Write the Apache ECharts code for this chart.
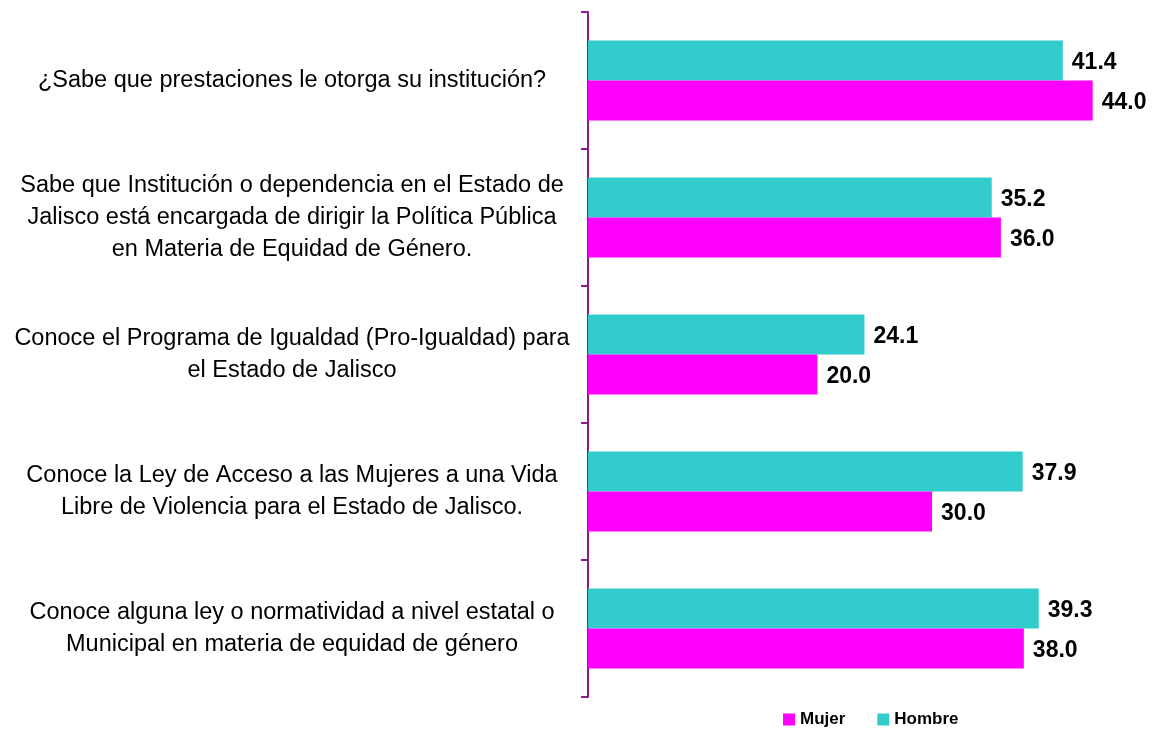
<!DOCTYPE html>
<html>
<head>
<meta charset="utf-8">
<script src="https://cdn.jsdelivr.net/npm/echarts@6/dist/echarts.min.js"></script>
<style>
  html, body { margin: 0; padding: 0; background: #fff; }
  #main { width: 1155px; height: 732px; }
</style>
</head>
<body>
<div id="main"></div>
<script>
var preguntas = [
    '¿Sabe que prestaciones le otorga su institución?',
    'Sabe que Institución o dependencia en el Estado de\nJalisco está encargada de dirigir la Política Pública\nen Materia de Equidad de Género.',
    'Conoce el Programa de Igualdad (Pro-Igualdad) para\nel Estado de Jalisco',
    'Conoce la Ley de Acceso a las Mujeres a una Vida\nLibre de Violencia para el Estado de Jalisco.',
    'Conoce alguna ley o normatividad a nivel estatal o\nMunicipal en materia de equidad de género'
];
var hombre = [41.4, 35.2, 24.1, 37.9, 39.3];
var mujer = [44.0, 36.0, 20.0, 30.0, 38.0];

var fuente = '"Liberation Sans", Arial, sans-serif';
var myChart = echarts.init(document.getElementById('main'));

var etiqueta = {
    show: true,
    position: 'right',
    distance: 9,
    offset: [0, 2],
    color: '#000',
    fontFamily: fuente,
    fontWeight: 'bold',
    fontSize: 23,
    formatter: function (p) { return p.value.toFixed(1); }
};

var option = {
    animation: false,
    backgroundColor: '#fff',
    legend: {
        data: ['Mujer', 'Hombre'],
        top: 706,
        left: 778,
        itemWidth: 12,
        itemHeight: 12,
        itemGap: 32,
        icon: 'rect',
        textStyle: {
            fontFamily: fuente,
            fontWeight: 'bold',
            fontSize: 17,
            color: '#000'
        }
    },
    grid: {
        left: 588,
        right: 5,
        top: 12,
        bottom: 35
    },
    xAxis: {
        type: 'value',
        min: 0,
        max: 49,
        show: false
    },
    yAxis: {
        type: 'category',
        inverse: true,
        data: preguntas,
        axisLine: { show: true, lineStyle: { color: '#8B1A8B', width: 2 } },
        axisTick: { show: true, length: 7, lineStyle: { color: '#8B1A8B', width: 2 } },
        axisLabel: {
            align: 'center',
            margin: 296,
            color: '#000',
            fontFamily: fuente,
            fontSize: 23.5,
            lineHeight: 32
        }
    },
    series: [
        {
            name: 'Hombre',
            type: 'bar',
            data: hombre,
            barWidth: 40,
            barGap: '0%',
            itemStyle: { color: '#33CCCC' },
            label: etiqueta
        },
        {
            name: 'Mujer',
            type: 'bar',
            data: mujer,
            barWidth: 40,
            barGap: '0%',
            itemStyle: { color: '#FF00FF' },
            label: etiqueta
        }
    ]
};
myChart.setOption(option);
</script>
</body>
</html>
